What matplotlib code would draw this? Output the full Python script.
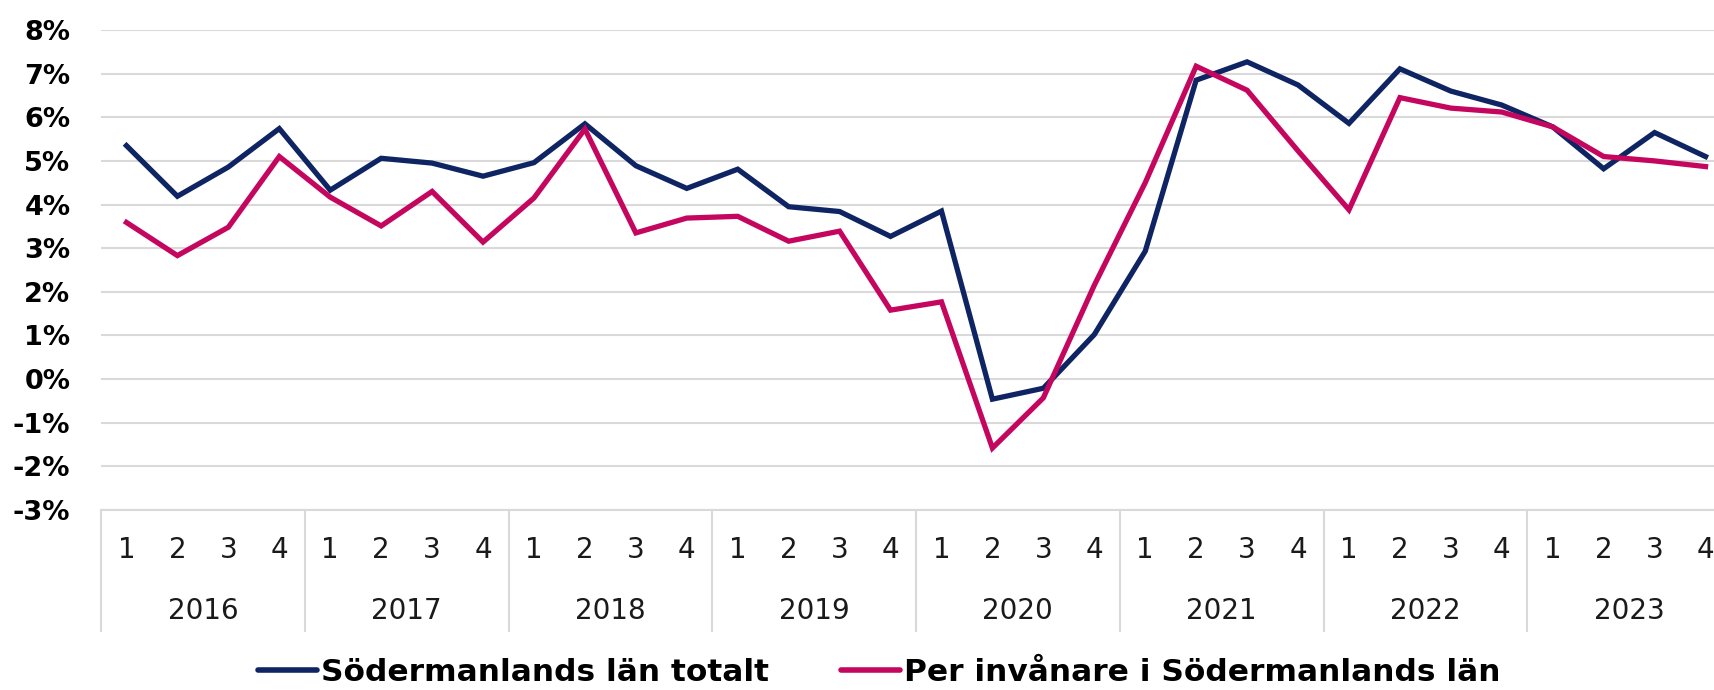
import numpy as np
import matplotlib
matplotlib.use('Agg')
import matplotlib.pyplot as plt
import matplotlib.transforms as mtransforms
import matplotlib.ticker as tck

years = ['2016', '2017', '2018', '2019', '2020', '2021', '2022', '2023']
quarters = ['1', '2', '3', '4']

# Södermanlands län totalt, % per kvartal
totalt = [5.35, 4.19, 4.86, 5.74,
          4.33, 5.06, 4.95, 4.65,
          4.96, 5.85, 4.89, 4.37,
          4.81, 3.95, 3.84, 3.27,
          3.85, -0.46, -0.21, 1.02,
          2.93, 6.85, 7.27, 6.74,
          5.86, 7.11, 6.60, 6.28,
          5.78, 4.82, 5.65, 5.10]

# Per invånare i Södermanlands län
per_inv = [3.59, 2.83, 3.48, 5.10,
           4.17, 3.51, 4.30, 3.14,
           4.15, 5.73, 3.35, 3.69,
           3.73, 3.16, 3.39, 1.58,
           1.77, -1.58, -0.43, 2.15,
           4.50, 7.17, 6.62, 5.23,
           3.88, 6.45, 6.21, 6.12,
           5.78, 5.10, 5.00, 4.87]

names = ['Södermanlands län totalt', 'Per invånare i Södermanlands län']
colors = ['#0E2463', '#C5065F']
grid_col = '#D9D9D9'


def main():
    plt.rcParams['font.family'] = ['DejaVu Sans']
    fig = plt.figure(figsize=(17.14, 6.90), dpi=100)
    ax = fig.add_axes([101/1714, 1-510/690, 1630/1714, 480/690])

    x = np.arange(len(totalt))
    ax.plot(x, totalt, color=colors[0], lw=3.8, label=names[0], solid_joinstyle='miter', zorder=3)
    ax.plot(x, per_inv, color=colors[1], lw=3.8, label=names[1], solid_joinstyle='miter', zorder=3)

    ax.set_xlim(-0.5, len(totalt) - 0.5)
    ax.set_ylim(-3, 8)
    ax.set_yticks(np.arange(-3, 9, 1))
    ax.yaxis.set_major_formatter(tck.FuncFormatter(lambda v, p: '%d%%' % v))
    ax.grid(axis='y', color=grid_col, lw=1.5, zorder=0)
    ax.set_axisbelow(True)
    for s in ['top', 'right', 'left']:
        ax.spines[s].set_visible(False)
    ax.spines['bottom'].set_color(grid_col)
    ax.spines['bottom'].set_linewidth(1.5)
    ax.tick_params(axis='y', length=0, pad=22, labelsize=19.5)
    for lab in ax.get_yticklabels():
        lab.set_fontweight('bold')

    ax.set_xticks(x)
    ax.set_xticklabels(quarters * len(years))
    ax.tick_params(axis='x', length=0, pad=19, labelsize=20, labelcolor='#1a1a1a')

    trans = mtransforms.blended_transform_factory(ax.transData, ax.transAxes)
    for i, yr in enumerate(years):
        ax.text(4 * i + 1.5, -0.21, yr, transform=trans, ha='center', va='center',
                fontsize=20, color='#1a1a1a')
    for i in range(len(years) + 1):
        ax.plot([4 * i - 0.5, 4 * i - 0.5], [0, -0.252], transform=trans,
                color=grid_col, lw=1.5, clip_on=False)

    leg = ax.legend(loc='center', bbox_to_anchor=(0.513, 0.026), bbox_transform=fig.transFigure,
                    ncol=2, frameon=False, handlelength=1.9, handletextpad=0.12,
                    columnspacing=2.3, prop={'weight': 'bold', 'size': 22.5})
    for h in leg.get_lines():
        h.set_linewidth(4)
        h.set_solid_capstyle('round')

    plt.savefig('out.png', dpi=100)
    plt.close()


if __name__ == '__main__':
    main()
